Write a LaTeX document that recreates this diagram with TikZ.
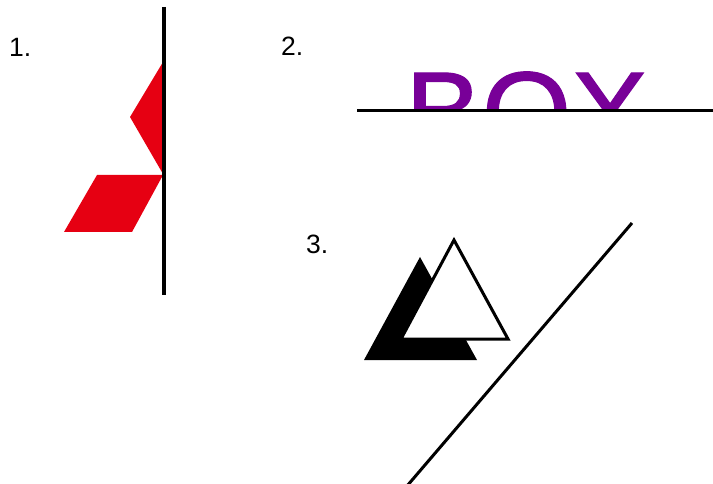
\documentclass[tikz,border=0pt]{standalone}
\usepackage{fontspec}
\setmainfont{Liberation Sans}
\newfontfamily\boxfont[FakeBold=1]{Liberation Sans}
\definecolor{mred}{RGB}{230,0,18}
\definecolor{boxpurple}{RGB}{120,0,152}
\tikzset{
  lbl/.style={anchor=base west, inner sep=0pt, font=\fontsize{26.5}{26.5}\selectfont},
  axisline/.style={line width=3.2pt, black},
}
\begin{document}
\begin{tikzpicture}[x=1pt,y=-1pt]
\useasboundingbox (0,0) rectangle (713,484);
% Panel 1
\node[lbl] (l1) at (9,57) {1.};
\fill[mred] (163,62) -- (130,117) -- (163,174) -- cycle;
\fill[mred] (97,175) -- (163,175) -- (132,232) -- (64,232) -- cycle;
\draw[axisline] (164,7) -- (164,295);
% Panel 2
\node[lbl] (l2) at (281,56) {2.};
\begin{scope}
  \clip (300,0) rectangle (713,110);
  \node[anchor=base west, inner sep=0pt, text=boxpurple, font=\boxfont\fontsize{115}{115}\selectfont] (box) at (405,152) {BOX};
\end{scope}
\draw[line width=3pt] (357,110.5) -- (713,110.5);
% Panel 3
\node[lbl] (l3) at (306,254) {3.};
\fill[black] (420,257) -- (364,360) -- (477,360) -- cycle;
\filldraw[fill=white, draw=black, line width=3pt, line join=miter] (454,240) -- (401,339) -- (508,339) -- cycle;
\draw[line width=3pt] (632,223) -- (407,486);
\end{tikzpicture}
\end{document}
